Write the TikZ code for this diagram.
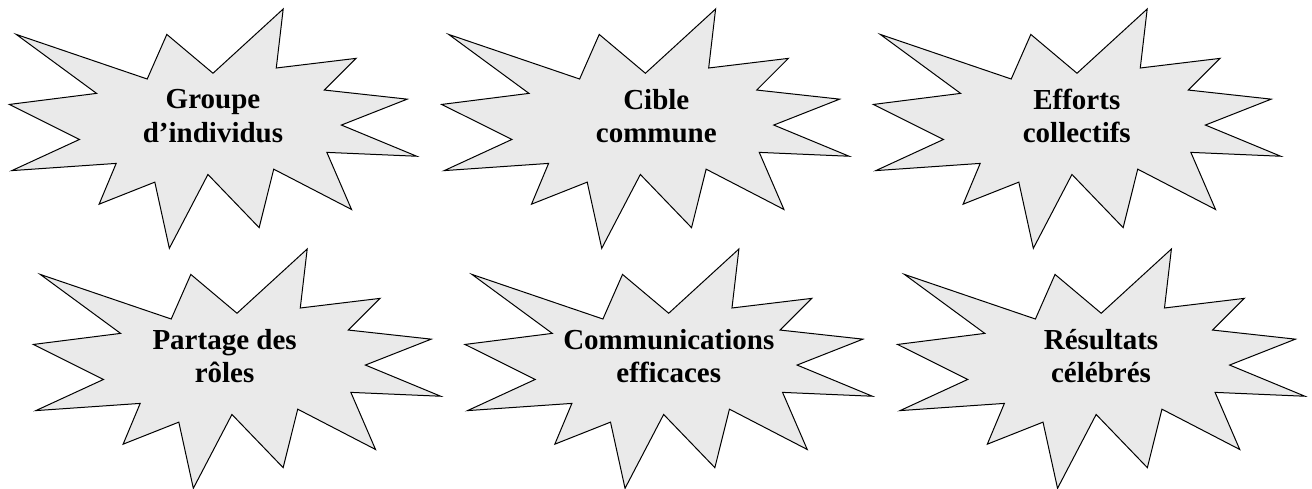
\documentclass[tikz,border=0pt]{standalone}
\usepackage{fontspec}
\setmainfont{Liberation Serif}
\definecolor{burstfill}{RGB}{234,234,234}
\tikzset{
  burstline/.style={draw=black, fill=burstfill, line width=1pt, line join=miter},
  bursttext/.style={align=center, inner sep=0pt, font=\bfseries\fontsize{29}{33.4}\selectfont},
}
% explosion outline on a 216 x 216 grid, scaled to 407.4 x 239.3
\newcommand\burstshape[2]{%
  \begin{scope}[shift={(#1,#2)}, xscale=1.8861, yscale=1.1079]
    \path[burstline] (108,58) -- (145.22,0) -- (141.55,53.25) -- (183.80,44.57)
      -- (167.02,73.15) -- (210.97,81.37) -- (176.07,104.75) -- (216,132.90)
      -- (168.37,129.42) -- (181.45,180.95) -- (140.20,144.57) -- (132.47,197.37)
      -- (105.32,149.35) -- (84.85,216) -- (77.15,156.27) -- (47.62,176.17)
      -- (56.67,139.37) -- (1.35,145.87) -- (37.22,117.75) -- (0,86.15)
      -- (46.27,76.17) -- (3.70,22.95) -- (73.12,63.20) -- (83.52,22.95) -- cycle;
  \end{scope}}
\begin{document}
\begin{tikzpicture}[x=1pt, y=-1pt]
  \useasboundingbox (0,0) rectangle (1312,489);
  % top row
  \burstshape{9.3}{9}
  \burstshape{441.7}{9}
  \burstshape{873.3}{9}
  % bottom row
  \burstshape{33.3}{249}
  \burstshape{465}{249}
  \burstshape{897.5}{249}
  \node[bursttext] (groupe) at (213,116) {Groupe\\d’individus};
  \node[bursttext] (cible) at (656.3,116) {Cible\\commune};
  \node[bursttext] (efforts) at (1076.8,116) {Efforts\\collectifs};
  \node[bursttext] (partage) at (224.6,356) {Partage des\\rôles};
  \node[bursttext] (comm) at (668.8,356) {Communications\\efficaces};
  \node[bursttext] (resultats) at (1101,356) {Résultats\\célébrés};
\end{tikzpicture}
\end{document}
